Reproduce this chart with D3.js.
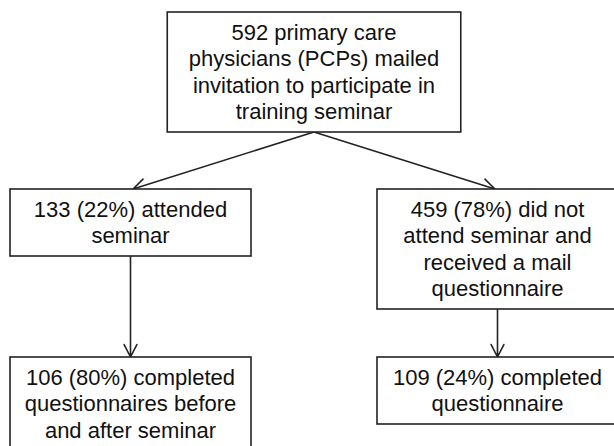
<!DOCTYPE html>
<html>
<head>
<meta charset="utf-8">
<script src="https://cdn.jsdelivr.net/npm/d3@7"></script>
<style>
  html, body { margin: 0; padding: 0; background: #fff; }
  svg { display: block; }
</style>
</head>
<body>
<div id="chart"></div>
<script>
// ---- data ----
const nodeLabels = [
  ["592 primary care", "physicians (PCPs) mailed", "invitation to participate in", "training seminar"],
  ["133 (22%) attended", "seminar"],
  ["459 (78%) did not", "attend seminar and", "received a mail", "questionnaire"],
  ["106 (80%) completed", "questionnaires before", "and after seminar"],
  ["109 (24%) completed", "questionnaire"]
];
const nodeColumns = ["center", "left", "right", "left", "right"];
const nodeRows = [0, 1, 1, 2, 2];
const linkSources = [0, 0, 1, 2];
const linkTargets = [1, 2, 3, 4];

// ---- layout ----
const W = 614, H = 446;
const lineH = 26.5, pad = 7, fontSize = 22;
const stroke = "#222";

const x = d3.scalePoint().domain(["left", "center", "right"]).range([130.5, 497.5]);
const yTop = d3.scaleOrdinal().domain([0, 1, 2]).range([12, 189, 357]);
const rowWidth = d3.scaleOrdinal().domain([0, 1, 2]).range([293.5, 241, 241]);

const nodes = nodeLabels.map((lines, i) => {
  const cx = x(nodeColumns[i]);
  const w = rowWidth(nodeRows[i]);
  const top = yTop(nodeRows[i]);
  const h = pad * 2 + lines.length * lineH;
  return { lines, cx, w, top, h };
});

const svg = d3.select("#chart").append("svg")
  .attr("width", W).attr("height", H)
  .attr("viewBox", `0 0 ${W} ${H}`);

svg.append("rect").attr("width", W).attr("height", H).attr("fill", "#fff");

// links
const links = linkSources.map((s, i) => ({ s: nodes[s], t: nodes[linkTargets[i]] }));
const gLinks = svg.append("g")
  .attr("fill", "none").attr("stroke", stroke).attr("stroke-width", 1.6)
  .attr("stroke-linecap", "round").attr("stroke-linejoin", "round");

const armLen = 14, armAng = 27 * Math.PI / 180;
links.forEach(l => {
  const x1 = l.s.cx, y1 = l.s.top + l.s.h;
  const x2 = l.t.cx + (x1 - l.t.cx) * 0.014, y2 = l.t.top;
  const ang = Math.atan2(y2 - y1, x2 - x1);
  const p = d3.path();
  p.moveTo(x1, y1); p.lineTo(x2, y2);
  p.moveTo(x2 - armLen * Math.cos(ang - armAng), y2 - armLen * Math.sin(ang - armAng));
  p.lineTo(x2, y2);
  p.lineTo(x2 - armLen * Math.cos(ang + armAng), y2 - armLen * Math.sin(ang + armAng));
  gLinks.append("path").attr("d", p.toString());
});

// boxes
const gNodes = svg.append("g");
const ng = gNodes.selectAll("g.node").data(nodes).join("g").attr("class", "node");
ng.append("rect")
  .attr("x", d => d.cx - d.w / 2).attr("y", d => d.top)
  .attr("width", d => d.w).attr("height", d => d.h)
  .attr("fill", "#fff").attr("stroke", stroke).attr("stroke-width", 1.6);

ng.each(function(d) {
  const g = d3.select(this);
  const mid = d.top + d.h / 2;
  const n = d.lines.length;
  g.selectAll("text").data(d.lines).join("text")
    .attr("x", d.cx)
    .attr("y", (t, i) => mid + (i - (n - 1) / 2) * lineH + 7.5)
    .attr("text-anchor", "middle")
    .attr("font-family", "'Liberation Sans', Arial, sans-serif")
    .attr("font-size", fontSize)
    .attr("fill", "#111")
    .text(t => t);
});
</script>
</body>
</html>
